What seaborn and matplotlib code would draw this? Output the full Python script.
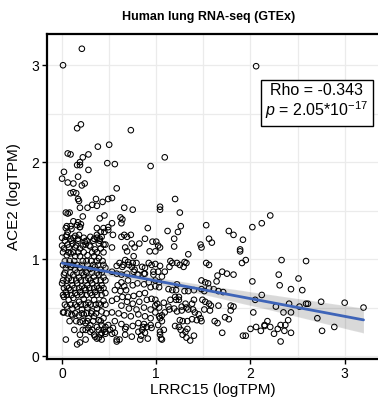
import numpy as np
import pandas as pd
import seaborn as sns
import matplotlib
matplotlib.use("Agg")
import matplotlib.pyplot as plt
from matplotlib.ticker import MultipleLocator

# ---------------- data ----------------
# upper / sparse region
lrrc15_a = [0.21, 0.01, 0.16, 0.20, 0.73, 2.06,
            0.38, 0.50, 0.06, 0.09, 0.22, 0.28, 0.19, 0.16, 0.19, 0.48, 0.56, 0.94, 0.28, 0.02,
            0.17, 0.00, 0.06, 0.12, 0.21, 0.24, 0.58, 0.09, 0.12, 0.15, 0.17, 0.18, 0.36, 0.43,
            0.49, 0.53, 0.32, 0.27, 0.37, 0.19, 0.66, 0.75, 0.04, 0.06, 0.08, 0.22, 0.40, 0.45,
            0.62, 0.64, 0.12, 0.17, 0.20, 0.16, 0.19, 0.53, 0.49, 0.44, 0.63, 0.05, 0.10, 0.06,
            0.91, 0.45, 0.49, 0.37, 0.34, 0.40, 0.66, 0.73, 0.69, 0.63, 0.54, 0.88, 0.14, 0.17,
            0.09, 0.04, 0.82, 0.74, 0.96, 0.24, 0.29, 0.22, 0.39, 0.44, 0.67, 0.77, 0.53, 0.00,
            0.07, 0.14,
            1.09, 1.20, 1.04, 1.04, 1.25, 1.53, 1.26, 1.23, 1.12, 1.77, 1.82, 2.02, 2.12, 1.19,
            1.56, 1.59, 1.92, 1.00, 1.02, 1.04, 1.19, 1.47, 1.48, 1.89, 2.21]
ace2_a = [3.17, 3.00, 2.35, 2.39, 2.33, 2.99,
          2.16, 2.18, 2.09, 2.08, 2.05, 2.08, 2.00, 1.97, 1.97, 1.99, 1.98, 1.96, 1.92, 1.90,
          1.85, 1.83, 1.79, 1.78, 1.76, 1.78, 1.73, 1.68, 1.69, 1.68, 1.62, 1.60, 1.62, 1.59,
          1.62, 1.63, 1.56, 1.53, 1.55, 1.53, 1.53, 1.51, 1.48, 1.47, 1.48, 1.44, 1.42, 1.45,
          1.43, 1.41, 1.39, 1.38, 1.36, 1.35, 1.33, 1.37, 1.33, 1.32, 1.37, 1.34, 1.31, 1.28,
          1.32, 1.28, 1.30, 1.25, 1.21, 1.21, 1.25, 1.25, 1.23, 1.23, 1.25, 1.21, 1.24, 1.21,
          1.21, 1.23, 1.16, 1.16, 1.18, 1.18, 1.14, 1.14, 1.16, 1.15, 1.12, 1.12, 1.12, 1.14,
          1.12, 1.12,
          2.05, 1.62, 1.54, 1.51, 1.48, 1.35, 1.34, 1.28, 1.29, 1.29, 1.25, 1.33, 1.37, 1.21,
          1.21, 1.17, 1.20, 1.18, 1.14, 1.12, 1.13, 1.15, 1.12, 1.10, 1.45]

# right-hand region
lrrc15_b = [1.34, 1.89, 1.95, 1.91, 0.99, 1.04, 1.15, 1.17, 1.14, 1.22, 1.25, 1.30, 1.32, 1.29,
            1.09, 1.53, 1.56, 1.65, 1.70, 1.75, 1.82, 2.02, 1.48, 1.52, 1.55, 1.64, 0.99, 1.03,
            0.99, 1.03, 1.22, 1.13, 1.17, 1.21, 1.30, 1.34, 1.40, 1.48, 1.51, 1.56, 1.61, 1.66,
            1.71, 1.20, 1.24, 1.21, 1.24, 0.99, 1.01, 0.99, 1.03, 1.08, 1.15, 1.40, 1.38, 1.31,
            1.27, 1.49, 1.52, 1.56, 1.58, 1.66, 2.05, 2.12, 1.82, 1.79, 1.79, 1.13, 1.14, 1.09,
            1.06, 1.03, 0.99, 1.19, 1.22, 1.27, 1.32, 1.34, 1.39, 1.41, 1.45, 1.51, 1.57, 1.62,
            1.65, 1.73, 1.77, 1.70, 1.04, 1.06, 1.25, 1.28, 1.33, 1.38, 1.43, 1.47, 1.48, 1.20,
            1.24, 1.26, 1.31, 1.33, 1.28, 1.32, 1.36, 1.40, 1.08, 1.04, 1.05, 1.06, 1.92, 1.95,
            2.00, 2.06, 2.11, 2.15, 2.03,
            2.33, 2.59, 2.30, 2.51, 2.31, 2.43, 2.55, 2.41, 2.52, 2.59, 2.61, 2.75, 3.00, 3.20,
            2.27, 2.35, 2.43, 2.71, 2.18, 2.15, 2.21, 2.25, 2.29, 2.32, 2.36, 2.37, 2.40, 2.43,
            2.32, 2.76, 2.89]
ace2_b = [1.05, 1.08, 0.99, 0.96, 0.95, 0.93, 0.98, 0.96, 0.92, 0.96, 0.94, 0.97, 0.96, 0.92,
          0.87, 0.96, 0.94, 0.83, 0.87, 0.85, 0.84, 0.77, 0.78, 0.76, 0.75, 0.77, 0.78, 0.76,
          0.72, 0.71, 0.74, 0.69, 0.68, 0.68, 0.67, 0.67, 0.68, 0.69, 0.67, 0.70, 0.69, 0.67,
          0.66, 0.61, 0.61, 0.58, 0.58, 0.58, 0.54, 0.52, 0.50, 0.55, 0.58, 0.58, 0.54, 0.54,
          0.51, 0.58, 0.56, 0.54, 0.52, 0.52, 0.58, 0.63, 0.51, 0.47, 0.52, 0.51, 0.48, 0.45,
          0.42, 0.41, 0.45, 0.49, 0.46, 0.47, 0.50, 0.48, 0.48, 0.45, 0.43, 0.48, 0.47, 0.36,
          0.34, 0.40, 0.38, 0.24, 0.39, 0.36, 0.37, 0.36, 0.36, 0.38, 0.37, 0.39, 0.36, 0.31,
          0.30, 0.27, 0.25, 0.28, 0.22, 0.19, 0.16, 0.21, 0.27, 0.25, 0.18, 0.17, 0.21, 0.21,
          0.28, 0.30, 0.26, 0.31, 0.45,
          0.99, 0.98, 0.84, 0.80, 0.73, 0.69, 0.68, 0.54, 0.51, 0.54, 0.54, 0.56, 0.55, 0.50,
          0.51, 0.45, 0.45, 0.39, 0.36, 0.32, 0.30, 0.23, 0.28, 0.32, 0.26, 0.32, 0.37, 0.24,
          0.15, 0.26, 0.30]

# middle region (LRRC15 about 0.45 - 1.05)
lrrc15_c = [0.69, 0.76, 0.67, 0.61, 0.58, 0.64, 0.71, 0.75, 0.77, 0.80, 0.88, 0.92, 0.95, 0.97,
            0.87, 0.63, 0.70, 0.66, 0.59, 0.56, 0.62, 0.68, 0.75, 0.80, 0.87, 0.92, 0.94, 0.88,
            0.82, 0.76, 0.70, 0.64, 0.58, 0.53, 0.69, 0.75, 0.82, 0.90, 0.95, 0.63, 0.71, 0.79,
            0.87, 0.94, 0.53, 0.60, 0.66, 0.73, 0.81, 0.88, 0.94, 0.56, 0.63, 0.68, 0.75, 0.81,
            0.87, 0.94, 0.67, 0.85, 0.88, 0.90, 0.84, 0.58, 0.61, 0.51, 0.56, 0.46,
            0.99, 0.93,
            0.65, 0.70, 0.74, 0.79, 0.85, 0.53, 0.58, 0.63, 0.69, 0.76, 0.81, 0.88, 0.97, 1.02,
            1.06,
            0.49, 0.54, 0.53, 0.58, 0.67, 0.74, 0.81, 0.86, 0.95, 1.02, 1.04, 0.83, 0.91]
ace2_c = [1.08, 1.03, 0.99, 0.96, 0.93, 0.92, 0.94, 0.96, 0.89, 0.84, 0.91, 0.96, 0.94, 0.87,
          0.85, 0.76, 0.78, 0.72, 0.73, 0.68, 0.67, 0.68, 0.73, 0.75, 0.74, 0.76, 0.71, 0.65,
          0.64, 0.62, 0.61, 0.61, 0.59, 0.57, 0.56, 0.54, 0.56, 0.58, 0.59, 0.52, 0.49, 0.48,
          0.50, 0.48, 0.45, 0.44, 0.42, 0.41, 0.43, 0.41, 0.39, 0.36, 0.33, 0.30, 0.31, 0.34,
          0.33, 0.32, 0.28, 0.27, 0.24, 0.30, 0.21, 0.17, 0.17, 0.27, 0.24, 0.23,
          1.08, 1.08,
          0.94, 0.97, 0.92, 0.96, 0.92, 0.87, 0.85, 0.84, 0.85, 0.87, 0.84, 0.85, 0.84, 0.87,
          0.82,
          0.32, 0.29, 0.23, 0.15, 0.22, 0.20, 0.25, 0.30, 0.29, 0.32, 0.22, 0.17, 0.18]

# dense cluster near LRRC15 = 0
lrrc15_d = [0.04, 0.09, 0.19, 0.37, 0.41, 0.00, 0.05, 0.12, 0.18, 0.23, 0.30, 0.37, 0.42,
            0.02, 0.06, 0.11, 0.15, 0.19, 0.25, 0.30, 0.35, 0.41, 0.46, 0.05, 0.09, 0.14, 0.19,
            0.27, 0.34, 0.39,
            0.04, 0.09, 0.14, 0.19, 0.25, 0.30, 0.35, 0.41, 0.46, 0.02, 0.07, 0.12, 0.18, 0.23,
            0.28, 0.34, 0.39, 0.44, 0.00, 0.05, 0.11, 0.16, 0.21, 0.27, 0.32, 0.37, 0.42, 0.04,
            0.09, 0.14, 0.19, 0.25, 0.30, 0.35, 0.41, 0.46,
            0.02, 0.07, 0.12, 0.18, 0.23, 0.28, 0.34, 0.39, 0.44, 0.05, 0.11, 0.16, 0.21, 0.27,
            0.32, 0.37, 0.42, 0.02, 0.11, 0.18, 0.23, 0.28, 0.34, 0.39, 0.44, 0.19, 0.25, 0.30,
            0.37, 0.42,
            0.01, 0.10, 0.04, 0.16, 0.19, 0.25, 0.30, 0.34, 0.41, 0.37, 0.42, 0.46, 0.19, 0.28,
            0.35, 0.39, 0.42, 0.46]
ace2_d = [1.32, 1.34, 1.33, 1.32, 1.28, 1.22, 1.25, 1.22, 1.25, 1.22, 1.23, 1.22, 1.23,
          1.11, 1.15, 1.16, 1.14, 1.11, 1.15, 1.13, 1.10, 1.11, 1.15, 1.04, 1.06, 1.03, 1.03,
          1.04, 1.03, 1.01,
          0.91, 0.92, 0.89, 0.91, 0.87, 0.90, 0.92, 0.89, 0.91, 0.84, 0.80, 0.84, 0.81, 0.84,
          0.80, 0.82, 0.84, 0.81, 0.75, 0.72, 0.73, 0.75, 0.72, 0.73, 0.75, 0.72, 0.73, 0.66,
          0.68, 0.65, 0.66, 0.68, 0.65, 0.66, 0.68, 0.65,
          0.61, 0.58, 0.60, 0.56, 0.59, 0.55, 0.58, 0.54, 0.57, 0.51, 0.49, 0.51, 0.48, 0.50,
          0.46, 0.49, 0.46, 0.45, 0.42, 0.42, 0.43, 0.39, 0.41, 0.37, 0.39, 0.35, 0.34, 0.32,
          0.30, 0.32,
          0.45, 0.43, 0.17, 0.12, 0.14, 0.17, 0.25, 0.22, 0.22, 0.18, 0.17, 0.25, 0.22, 0.29,
          0.20, 0.19, 0.24, 0.30]

# extra points filling the dense cluster
lrrc15_e = [0.03, 0.10, 0.17, 0.26, 0.33, 0.40,
            0.01, 0.07, 0.12, 0.17, 0.23, 0.32, 0.37, 0.44,
            0.03, 0.08, 0.13, 0.22, 0.26, 0.31, 0.37, 0.43,
            0.01, 0.06, 0.11, 0.16, 0.21, 0.27, 0.33, 0.38, 0.44,
            0.03, 0.09, 0.16, 0.21, 0.26, 0.32, 0.37, 0.42,
            0.01, 0.05, 0.10, 0.15, 0.20, 0.25, 0.30, 0.36, 0.41, 0.46,
            0.02, 0.07, 0.13, 0.18, 0.24, 0.29, 0.34, 0.39, 0.44,
            0.01, 0.05, 0.10, 0.16, 0.21, 0.26, 0.32, 0.37, 0.42,
            0.03, 0.09, 0.14, 0.20, 0.25, 0.30, 0.36, 0.41, 0.46,
            0.06, 0.14, 0.21, 0.26, 0.31, 0.36, 0.47,
            0.08, 0.15, 0.22, 0.27, 0.33, 0.41,
            0.13, 0.22, 0.25, 0.32, 0.39, 0.44]
ace2_e = [1.19, 1.19, 1.19, 1.19, 1.19, 1.19,
          1.07, 1.07, 1.07, 1.07, 1.07, 1.07, 1.07, 1.07,
          0.98, 0.98, 0.98, 0.98, 0.98, 0.98, 0.98, 0.98,
          0.94, 0.94, 0.94, 0.94, 0.94, 0.94, 0.94, 0.94, 0.94,
          0.86, 0.86, 0.86, 0.86, 0.86, 0.86, 0.86, 0.86,
          0.78, 0.78, 0.78, 0.78, 0.78, 0.78, 0.78, 0.78, 0.78, 0.78,
          0.70, 0.70, 0.70, 0.70, 0.70, 0.70, 0.70, 0.70, 0.70,
          0.63, 0.63, 0.63, 0.63, 0.63, 0.63, 0.63, 0.63, 0.63,
          0.53, 0.53, 0.53, 0.53, 0.53, 0.53, 0.53, 0.53, 0.53,
          0.44, 0.44, 0.44, 0.44, 0.44, 0.44, 0.44,
          0.36, 0.36, 0.36, 0.36, 0.36, 0.36,
          0.27, 0.27, 0.27, 0.27, 0.27, 0.27]

x_ticks = [0, 1, 2, 3]
y_ticks = [0, 1, 2, 3]
title = "Human lung RNA-seq (GTEx)"
x_label = "LRRC15 (logTPM)"
y_label = "ACE2 (logTPM)"
stat_rho = "Rho = -0.343"
stat_p = r"$p$ = 2.05*10$^{-17}$"

df = pd.DataFrame({
    "LRRC15": lrrc15_a + lrrc15_b + lrrc15_c + lrrc15_d + lrrc15_e,
    "ACE2": ace2_a + ace2_b + ace2_c + ace2_d + ace2_e,
})

# ---------------- style ----------------
sns.set_theme(style="white")
plt.rcParams["font.family"] = ["Liberation Sans", "DejaVu Sans"]
plt.rcParams["mathtext.fontset"] = "custom"
plt.rcParams["mathtext.rm"] = "Liberation Sans"
plt.rcParams["mathtext.it"] = "Liberation Sans:italic"

fig = plt.figure(figsize=(3.78, 4.025), dpi=100)
# the panel's right border lies just outside the picture, as in the reference
ax = fig.add_axes([47 / 378, 43 / 402, 336 / 378, 325 / 402])

sns.scatterplot(data=df, x="LRRC15", y="ACE2", ax=ax, marker="o", s=16,
                facecolor="none", edgecolor="black", linewidth=0.75, zorder=3)
# confidence band (grey)
sns.regplot(data=df, x="LRRC15", y="ACE2", ax=ax, scatter=False, color="black",
            seed=0, line_kws={"alpha": 0})
# fitted line (blue)
sns.regplot(data=df, x="LRRC15", y="ACE2", ax=ax, scatter=False, ci=None,
            color="#3E64B8", line_kws={"linewidth": 2.0, "zorder": 5})
for coll in ax.collections[1:]:
    coll.set_zorder(4)

ax.set_xlim(-0.16, -0.16 + 336 / 94.2)
ax.set_ylim(-0.03, 3.327)
ax.set_xticks(x_ticks)
ax.set_yticks(y_ticks)
ax.xaxis.set_minor_locator(MultipleLocator(0.5))
ax.yaxis.set_minor_locator(MultipleLocator(0.5))
ax.grid(True, which="both", color="#EBEBEB", linewidth=0.9, zorder=0)
ax.set_axisbelow(True)

for side in ["left", "bottom", "top", "right"]:
    ax.spines[side].set_color("black")
    ax.spines[side].set_linewidth(1.6)

ax.tick_params(axis="both", which="major", direction="out", length=3.5, width=1.0,
               color="black", labelsize=10, labelcolor="black", pad=2,
               bottom=True, left=True)
ax.tick_params(axis="both", which="minor", length=0)

ax.set_xlabel(x_label, fontsize=11, color="black", labelpad=0)
ax.set_ylabel(y_label, fontsize=11, color="black")
ax.xaxis.set_label_coords((212.5 - 47) / 336, -24 / 325)
ax.yaxis.set_label_coords((21 - 47) / 336, 0.5)

fig.text(208.5 / 378, 1 - 17 / 402, title, ha="center", va="center",
         fontsize=9, fontweight="bold", color="black")

ax.text((317 - 47) / 336, (359 - 102) / 325, stat_rho + "\n" + stat_p,
        transform=ax.transAxes,
        ha="center", va="center", multialignment="center", fontsize=11.5,
        color="black", linespacing=1.1, zorder=6,
        bbox=dict(boxstyle="square,pad=0.3", facecolor="white",
                  edgecolor="black", linewidth=1.0))

fig.savefig("out.png", dpi=100)
